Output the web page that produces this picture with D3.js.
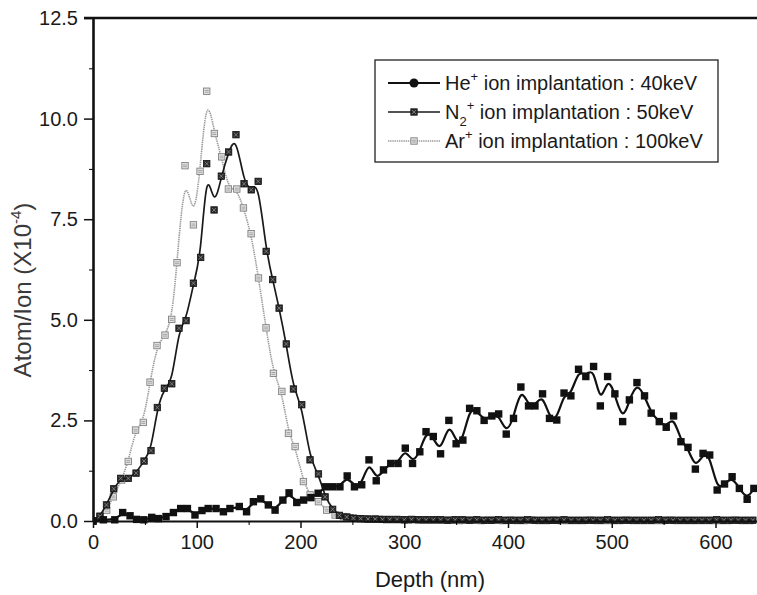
<!DOCTYPE html>
<html>
<head>
<meta charset="utf-8">
<script src="https://cdnjs.cloudflare.com/ajax/libs/d3/7.8.5/d3.min.js"></script>
<style>
  body { margin: 0; background: #fff; }
  svg { display: block; font-family: "Liberation Sans", Arial, sans-serif; }
</style>
</head>
<body>
<svg id="chart" width="757" height="595"></svg>
<script>
// ---- data (depth in nm, Atom/Ion in 1e-4) ----
var heDepth = [
  0, 10, 21, 28.6, 35.7, 42, 49, 56.6,
  63, 70.4, 77.5, 84.5, 91, 98.3, 105, 111,
  118.6, 125.7, 132, 141, 148, 154.6, 161.7, 169,
  175.5, 183, 189, 196.4, 203, 210, 217, 224,
  231, 238, 245, 252, 259, 266, 273, 280,
  287, 294, 301, 308, 315, 321, 328, 335,
  343, 350, 356.5, 363, 370, 377, 384.4, 391,
  398.3, 405.3, 412.4, 419.8, 426, 433.3, 440, 447,
  454, 460.6, 468, 475, 482.5, 489, 496, 503,
  510.5, 517, 524.3, 531.6, 538, 545.8, 552.5, 559.6,
  566.7, 573.5, 580.6, 588, 594.4, 601.6, 608.7, 616,
  623, 630.5, 637
];
var heValue = [
  0, 0.03, 0.03, 0.21, 0.13, 0.04, 0.03, 0.09,
  0.06, 0.11, 0.21, 0.31, 0.31, 0.15, 0.26, 0.31,
  0.31, 0.23, 0.31, 0.36, 0.23, 0.48, 0.55, 0.40,
  0.27, 0.52, 0.70, 0.46, 0.52, 0.58, 0.69, 0.85,
  0.85, 0.85, 1.12, 0.85, 0.90, 1.52, 1.00, 1.27,
  1.43, 1.43, 1.81, 1.43, 1.72, 2.22, 2.10, 1.67,
  2.50, 1.92, 2.01, 2.80, 2.74, 2.50, 2.61, 2.66,
  2.16, 2.55, 3.33, 2.86, 2.86, 3.16, 2.55, 2.51,
  3.18, 3.11, 3.77, 3.59, 3.84, 2.86, 3.59, 3.16,
  2.47, 3.01, 3.44, 3.11, 2.68, 2.47, 2.33, 2.61,
  1.97, 1.83, 1.29, 1.68, 1.64, 0.77, 0.92, 1.10,
  0.81, 0.54, 0.81
];

var n2Depth = [
  0, 6.7, 13, 20, 26.7, 34, 41.5, 49.2,
  55.9, 62, 68.8, 75.9, 82.9, 89.7, 96.8, 103.8,
  109.6, 116.7, 123.7, 130.7, 137.8, 145.6, 152.5, 159.2,
  166.9, 173.2, 179.4, 186.3, 193.2, 201.2, 209.2, 217.3,
  223.7, 231, 237.5, 244.6,
  251, 258, 265, 272, 279, 286, 293, 300,
  307, 314, 321, 328, 335, 342, 349, 356,
  363, 370, 377, 384, 391, 398, 405, 412,
  419, 426, 433, 440, 447, 454, 461, 468,
  475, 482, 489, 496, 503, 510, 517, 524,
  531, 538, 545, 552, 559, 566, 573, 580,
  587, 594, 601, 608, 615, 622, 629, 636
];
var n2Value = [
  0, 0.12, 0.40, 0.80, 1.06, 1.06, 1.19, 1.49,
  1.75, 2.82, 3.30, 3.41, 4.79, 4.98, 5.91, 6.55,
  8.88, 7.73, 8.57, 9.17, 9.60, 8.38, 8.23, 8.44,
  6.70, 6.00, 5.29, 4.40, 3.28, 2.89, 1.52, 1.17,
  0.60, 0.29, 0.14, 0.10,
  0.07, 0.06, 0.05, 0.05, 0.04, 0.04, 0.04, 0.03,
  0.04, 0.03, 0.03, 0.03, 0.03, 0.02, 0.03, 0.03,
  0.02, 0.03, 0.02, 0.02, 0.03, 0.02, 0.02, 0.02,
  0.03, 0.02, 0.02, 0.02, 0.02, 0.03, 0.02, 0.02,
  0.02, 0.02, 0.02, 0.03, 0.02, 0.02, 0.02, 0.02,
  0.02, 0.02, 0.03, 0.02, 0.02, 0.02, 0.02, 0.02,
  0.02, 0.02, 0.03, 0.02, 0.02, 0.02, 0.02, 0.02
];

var arDepth = [
  0, 6.7, 13.2, 19.6, 27.6, 34, 41, 48.5,
  55, 61.7, 69.4, 75.9, 81, 88.7, 96.8, 103.2,
  109.6, 117, 124, 130.5, 138.6, 145, 152.4, 159.5,
  166.8, 173.9, 182, 188.4, 194.8, 202.8, 209.2, 217.3,
  225.3, 233.4, 241.4,
  248, 255, 262, 269, 276, 283, 290, 297,
  304, 311, 318, 325, 332, 339, 346, 353,
  360, 367, 374, 381, 388, 395, 402, 409,
  416, 423, 430, 437, 444, 451, 458, 465,
  472, 479, 486, 493, 500, 507, 514, 521,
  528, 535, 542, 549, 556, 563, 570, 577,
  584, 591, 598, 605, 612, 619, 626, 633
];
var arValue = [
  0, 0.11, 0.27, 0.60, 1.02, 1.48, 2.26, 2.45,
  3.45, 4.36, 4.62, 5.01, 6.42, 8.83, 7.36, 8.69,
  10.68, 9.63, 9.05, 8.25, 8.25, 7.78, 7.14, 6.04,
  4.80, 3.67, 3.22, 2.18, 1.85, 0.98, 0.65, 0.48,
  0.27, 0.15, 0.11,
  0.08, 0.06, 0.05, 0.04, 0.04, 0.03, 0.03, 0.03,
  0.02, 0.03, 0.02, 0.02, 0.02, 0.02, 0.02, 0.01,
  0.02, 0.02, 0.01, 0.02, 0.02, 0.01, 0.02, 0.01,
  0.01, 0.02, 0.01, 0.01, 0.02, 0.01, 0.01, 0.01,
  0.01, 0.02, 0.01, 0.01, 0.01, 0.01, 0.02, 0.01,
  0.01, 0.01, 0.01, 0.01, 0.02, 0.01, 0.01, 0.01,
  0.01, 0.01, 0.01, 0.01, 0.01, 0.02, 0.01, 0.01
];

var xTicks = [0, 100, 200, 300, 400, 500, 600];
var xMinor = [50, 150, 250, 350, 450, 550];
var yTicks = [0, 2.5, 5.0, 7.5, 10.0, 12.5];
var yMinor = [1.25, 3.75, 6.25, 8.75, 11.25];

// ---- scales ----
var svg = d3.select("#chart");
var x = d3.scaleLinear().domain([0, 640]).range([93, 757]);
var y = d3.scaleLinear().domain([0, 12.5]).range([521, 18]);

function zip(a, b) { return a.map(function (d, i) { return [d, b[i]]; }); }
var hePts = zip(heDepth, heValue),
    n2Pts = zip(n2Depth, n2Value),
    arPts = zip(arDepth, arValue);

svg.append("defs").append("clipPath").attr("id", "plotclip")
  .append("rect").attr("x", 93).attr("y", 10).attr("width", 664).attr("height", 520);

var line = d3.line()
  .x(function (d) { return x(d[0]); })
  .y(function (d) { return y(d[1]); })
  .curve(d3.curveBasis);

var plot = svg.append("g").attr("clip-path", "url(#plotclip)");

// marker drawers
function arMark(g) {
  g.append("rect").attr("x", -3.2).attr("y", -3.2).attr("width", 6.4).attr("height", 6.4)
    .attr("fill", "#e2e2e2").attr("stroke", "#808080").attr("stroke-width", 0.9);
  g.append("path").attr("d", "M-2,-0.8H2M-2,1H2").attr("stroke", "#8a8a8a").attr("stroke-width", 0.7);
}
function n2Mark(g) {
  g.append("rect").attr("x", -3.2).attr("y", -3.2).attr("width", 6.4).attr("height", 6.4)
    .attr("fill", "#2a2a2a").attr("stroke", "#111").attr("stroke-width", 0.8);
  g.append("path").attr("d", "M-2,-2L2,2M2,-2L-2,2").attr("stroke", "#9a9a9a").attr("stroke-width", 0.7);
}
function heMark(g) {
  g.append("rect").attr("x", -3.7).attr("y", -3.7).attr("width", 7.4).attr("height", 7.4)
    .attr("fill", "#111");
}

// Ar+ 100keV
plot.append("path").datum(arPts).attr("d", line)
  .attr("fill", "none").attr("stroke", "#9a9a9a").attr("stroke-width", 1.6)
  .attr("stroke-dasharray", "1.4,0.8");
plot.append("g").selectAll("g").data(arPts).join("g")
  .attr("transform", function (d) { return "translate(" + x(d[0]) + "," + y(d[1]) + ")"; })
  .each(function () { arMark(d3.select(this)); });

// N2+ 50keV
plot.append("path").datum(n2Pts).attr("d", line)
  .attr("fill", "none").attr("stroke", "#1a1a1a").attr("stroke-width", 1.7);
plot.append("g").selectAll("g").data(n2Pts).join("g")
  .attr("transform", function (d) { return "translate(" + x(d[0]) + "," + y(d[1]) + ")"; })
  .each(function () { n2Mark(d3.select(this)); });

// He+ 40keV
plot.append("path").datum(hePts).attr("d", line)
  .attr("fill", "none").attr("stroke", "#111").attr("stroke-width", 2.2);
plot.append("g").selectAll("g").data(hePts).join("g")
  .attr("transform", function (d) { return "translate(" + x(d[0]) + "," + y(d[1]) + ")"; })
  .each(function () { heMark(d3.select(this)); });

// ---- axes ----
var fmt = d3.format(".1f");
var yAxis = svg.append("g").attr("transform", "translate(93,0)")
  .call(d3.axisLeft(y).tickValues(yTicks).tickFormat(fmt).tickSize(9).tickSizeOuter(0).tickPadding(6));
svg.append("g").attr("transform", "translate(93,0)")
  .call(d3.axisLeft(y).tickValues(yMinor).tickFormat("").tickSize(4).tickSizeOuter(0))
  .select(".domain").remove();

var xAxis = svg.append("g").attr("transform", "translate(0,521)")
  .call(d3.axisBottom(x).tickValues(xTicks).tickSize(7).tickSizeOuter(0).tickPadding(7));
svg.append("g").attr("transform", "translate(0,521)")
  .call(d3.axisBottom(x).tickValues(xMinor).tickFormat("").tickSize(4).tickSizeOuter(0))
  .select(".domain").remove();

[yAxis, xAxis].forEach(function (a) {
  a.selectAll("text").attr("font-size", 20).attr("fill", "#1a1a1a")
    .attr("font-family", "'Liberation Sans', Arial, sans-serif");
  a.selectAll("line").attr("stroke", "#111").attr("stroke-width", 1.5);
});
yAxis.select(".domain").attr("stroke", "#111").attr("stroke-width", 2.6);
xAxis.select(".domain").attr("stroke", "#111").attr("stroke-width", 2);

// top frame line
svg.append("line").attr("x1", 84).attr("x2", 757).attr("y1", y(12.5)).attr("y2", y(12.5))
  .attr("stroke", "#111").attr("stroke-width", 2.6);

// ---- titles ----
svg.append("text").attr("x", 430).attr("y", 587).attr("text-anchor", "middle")
  .attr("font-size", 22).attr("fill", "#1a1a1a").text("Depth (nm)");

var yt = svg.append("text").attr("transform", "translate(31,290) rotate(-90)")
  .attr("text-anchor", "middle").attr("font-size", 24).attr("fill", "#3a3a3a");
yt.append("tspan").text("Atom/Ion (X10");
yt.append("tspan").attr("dy", -10).attr("font-size", 15).text("-4");
yt.append("tspan").attr("dy", 10).text(")");

// ---- legend ----
var legend = svg.append("g");
legend.append("rect").attr("x", 375).attr("y", 60).attr("width", 343).attr("height", 102)
  .attr("fill", "#fff").attr("stroke", "#222").attr("stroke-width", 1.3);

var rows = [83, 112, 141];
// He
legend.append("line").attr("x1", 388).attr("x2", 440).attr("y1", rows[0]).attr("y2", rows[0])
  .attr("stroke", "#111").attr("stroke-width", 2);
legend.append("circle").attr("cx", 414).attr("cy", rows[0]).attr("r", 4.5).attr("fill", "#111");
// N2
legend.append("line").attr("x1", 388).attr("x2", 440).attr("y1", rows[1]).attr("y2", rows[1])
  .attr("stroke", "#1a1a1a").attr("stroke-width", 1.4);
n2Mark(legend.append("g").attr("transform", "translate(414," + rows[1] + ")"));
// Ar
legend.append("line").attr("x1", 388).attr("x2", 440).attr("y1", rows[2]).attr("y2", rows[2])
  .attr("stroke", "#9a9a9a").attr("stroke-width", 1.6).attr("stroke-dasharray", "1.4,0.8");
arMark(legend.append("g").attr("transform", "translate(414," + rows[2] + ")"));

function legendText(yy, ion, sub, rest) {
  var t = legend.append("text").attr("x", 445).attr("y", yy + 7)
    .attr("font-size", 20).attr("fill", "#1a1a1a");
  t.append("tspan").text(ion);
  if (sub) {
    t.append("tspan").attr("dy", 7).attr("font-size", 13).text(sub);
    t.append("tspan").attr("dy", -16).attr("font-size", 13).text("+");
    t.append("tspan").attr("dy", 9).text(rest);
  } else {
    t.append("tspan").attr("dy", -9).attr("font-size", 13).text("+");
    t.append("tspan").attr("dy", 9).text(rest);
  }
}
legendText(rows[0], "He", null, " ion implantation : 40keV");
legendText(rows[1], "N", "2", " ion implantation : 50keV");
legendText(rows[2], "Ar", null, " ion implantation : 100keV");
</script>
</body>
</html>
